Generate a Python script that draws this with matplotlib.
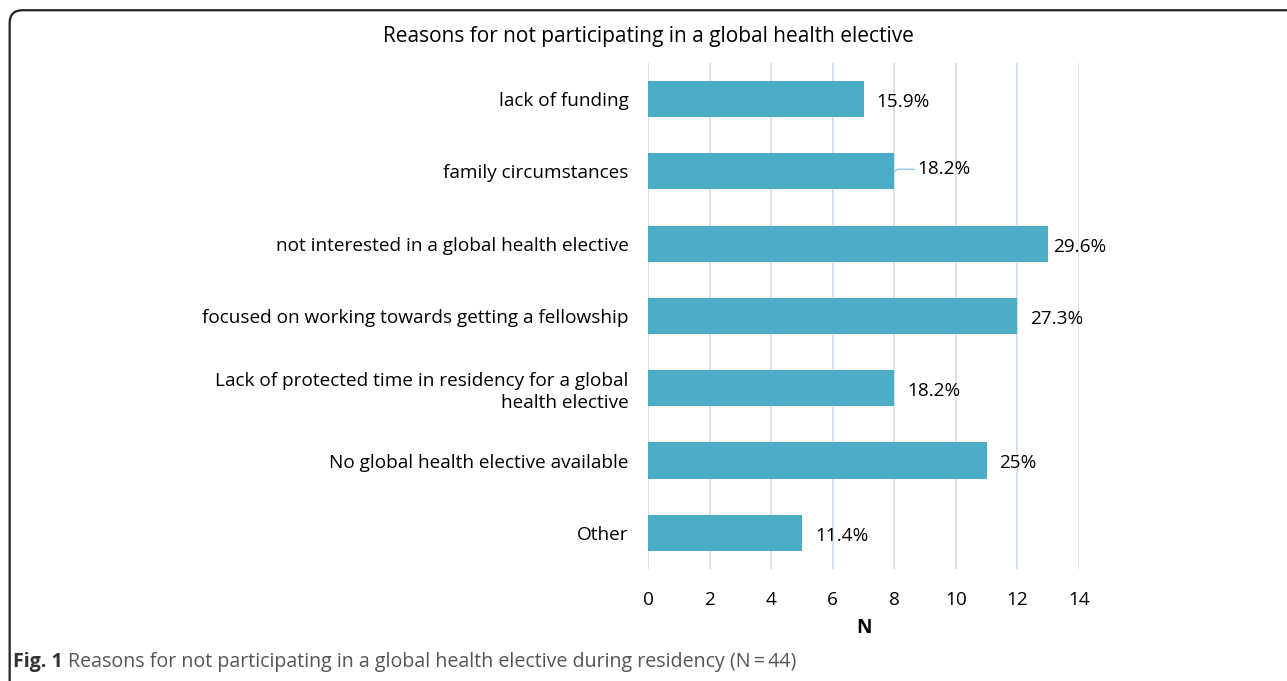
import matplotlib.pyplot as plt
from matplotlib.patches import FancyBboxPatch

# Data (top to bottom)
reasons = [
    'lack of funding',
    'family circumstances',
    'not interested in a global health elective',
    'focused on working towards getting a fellowship',
    'Lack of protected time in residency for a global\nhealth elective',
    'No global health elective available',
    'Other',
]
counts = [7, 8, 13, 12, 8, 11, 5]
pct_labels = ['15.9%', '18.2%', '29.6%', '27.3%', '18.2%', '25%', '11.4%']

plt.rcParams['font.family'] = ['Open Sans', 'DejaVu Sans']
fs = 13.7

fig = plt.figure(figsize=(12.87, 6.81), dpi=100)
ax = fig.add_axes([0.5035, 0.1645, 0.3349, 0.743])

ypos = list(range(len(reasons)))
ax.barh(ypos, counts, height=0.5, color='#4BACC6', zorder=3)

# Data labels; the second one sits a bit off with a leader line,
# the longest one is pushed closer to its bar
for i, (v, lab) in enumerate(zip(counts, pct_labels)):
    if i == 1:
        ax.annotate(lab, xy=(v, i), xytext=(v + 0.75, i - 0.03),
                    fontsize=fs, va='center', ha='left',
                    arrowprops=dict(arrowstyle='-', color='#9DC3E6', lw=1,
                                    shrinkA=0, shrinkB=0,
                                    connectionstyle='angle,angleA=0,angleB=30,rad=0'))
    else:
        off = 0.15 if i == 2 else 0.42
        ax.text(v + off, i + 0.04, lab, fontsize=fs, va='center', ha='left')

ax.set_ylim(len(reasons) - 0.5, -0.5)
ax.set_xlim(0, 14)
ax.set_xticks(range(0, 15, 2))
ax.set_yticks(ypos)
ax.set_yticklabels(reasons, fontsize=fs, linespacing=1.25)
ax.tick_params(axis='both', length=0, labelsize=fs)
ax.tick_params(axis='x', pad=16)
ax.tick_params(axis='y', pad=14)
ax.xaxis.grid(True, color='#D5E0F3', lw=1.4, zorder=0)
for s in ax.spines.values():
    s.set_visible(False)
ax.set_xlabel('N', fontsize=fs, fontweight='bold', labelpad=6)

fig.text(0.5035, 0.947, 'Reasons for not participating in a global health elective',
         ha='center', va='center', fontsize=15)

# Caption below the chart
fig.canvas.draw()
cap = fig.text(0.0101, 0.028, 'Fig. 1', fontsize=14.1, fontweight='bold', color='#333333',
               ha='left', va='center')
ext = cap.get_window_extent(renderer=fig.canvas.get_renderer())
x_rest = (ext.x1 + 5) / fig.bbox.width
fig.text(x_rest, 0.028,
         'Reasons for not participating in a global health elective during residency (N\u2009=\u200944)',
         fontsize=14.1, color='#555555', ha='left', va='center')

# Rounded frame running off the right and bottom edges
frame = FancyBboxPatch((0.0075, -0.05), 1.05, 1.035, transform=fig.transFigure,
                       boxstyle='round,pad=0,rounding_size=0.01',
                       fill=False, edgecolor='#222222', lw=1.6, mutation_aspect=1.89)
fig.patches.append(frame)

fig.savefig('out.png', dpi=100)
